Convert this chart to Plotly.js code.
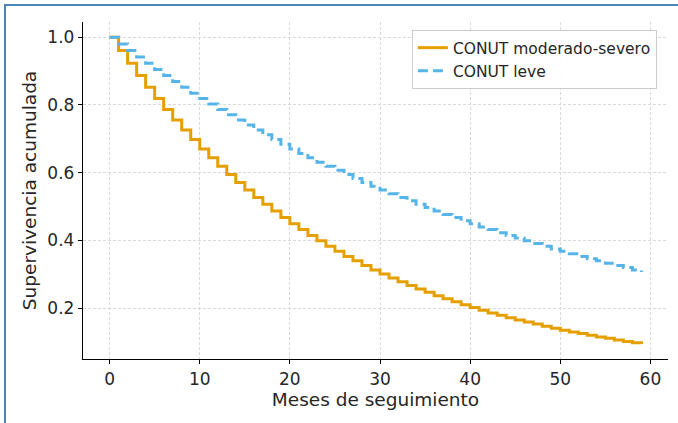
<!DOCTYPE html>
<html>
<head>
<meta charset="utf-8">
<script src="https://cdn.plot.ly/plotly-3.0.1.min.js"></script>
<style>
  html, body { margin: 0; padding: 0; background: #ffffff; }
  #frame { position: absolute; left: 4px; top: 4px; width: 674px; height: 419px;
           border-left: 2px solid #4a86b8; border-top: 2px solid #4a86b8; box-sizing: border-box; }
  #chart { position: absolute; left: 0; top: 0; width: 678px; height: 423px; }
</style>
</head>
<body>
<div id="chart"></div>
<div id="frame"></div>
<script>
// Months of follow-up
const months = [0,1,2,3,4,5,6,7,8,9,10,11,12,13,14,15,16,17,18,19,20,21,22,23,24,25,26,27,28,29,
                30,31,32,33,34,35,36,37,38,39,40,41,42,43,44,45,46,47,48,49,50,51,52,53,54,55,56,57,58,59];

// CONUT moderado-severo
const survModSev = [1.000,0.961,0.923,0.887,0.852,0.819,0.787,0.756,0.726,0.698,
                    0.670,0.644,0.619,0.595,0.571,0.549,0.527,0.507,0.487,0.468,
                    0.449,0.432,0.415,0.399,0.383,0.368,0.353,0.340,0.326,0.313,
                    0.301,0.289,0.278,0.267,0.257,0.247,0.237,0.228,0.219,0.210,
                    0.202,0.194,0.186,0.179,0.172,0.165,0.159,0.153,0.147,0.141,
                    0.135,0.130,0.125,0.120,0.115,0.111,0.106,0.102,0.098,0.094];

// CONUT leve
const survLeve = [1.000,0.980,0.961,0.942,0.923,0.905,0.887,0.869,0.852,0.835,
                  0.819,0.803,0.787,0.771,0.756,0.741,0.726,0.712,0.698,0.684,
                  0.670,0.657,0.644,0.631,0.619,0.607,0.595,0.583,0.571,0.560,
                  0.549,0.538,0.527,0.517,0.507,0.497,0.487,0.477,0.468,0.458,
                  0.449,0.440,0.432,0.423,0.415,0.407,0.399,0.391,0.383,0.375,
                  0.368,0.361,0.353,0.346,0.340,0.333,0.326,0.320,0.313,0.307];

const seriesNames = ["CONUT moderado-severo", "CONUT leve"];
const xTicks = [0,10,20,30,40,50,60];
const yTicks = [0.2,0.4,0.6,0.8,1.0];
const yTickText = ["0.2","0.4","0.6","0.8","1.0"];

const font = "DejaVu Sans, sans-serif";

const traces = [
  { x: months, y: survModSev, name: seriesNames[0], type: "scatter", mode: "lines",
    line: { shape: "hv", color: "#E69F00", width: 3 } },
  { x: months, y: survLeve, name: seriesNames[1], type: "scatter", mode: "lines",
    line: { shape: "hv", color: "#56B4E9", width: 3, dash: "10px,5px" } }
];

const layout = {
  width: 678, height: 423, autosize: false,
  margin: { l: 83, r: 10, t: 22, b: 64, pad: 0 },
  paper_bgcolor: "#ffffff", plot_bgcolor: "#ffffff",
  font: { family: font, color: "#262626", size: 17 },
  showlegend: true,
  legend: {
    x: 0.981, y: 0.976, xanchor: "right", yanchor: "top",
    bgcolor: "rgba(255,255,255,0.9)", bordercolor: "#cccccc", borderwidth: 1,
    font: { family: font, size: 15.5, color: "#262626" },
    tracegroupgap: 0
  },
  xaxis: {
    range: [-2.95, 61.95], tickvals: xTicks, ticktext: xTicks.map(String),
    showline: true, linecolor: "#000000", linewidth: 1.2, mirror: false,
    ticks: "outside", ticklen: 4, tickwidth: 1, tickcolor: "#000000",
    showgrid: true, gridcolor: "#d9d9d9", griddash: "3px,2px", gridwidth: 1,
    zeroline: false,
    tickfont: { family: font, size: 17, color: "#262626" },
    title: { text: "Meses de seguimiento", font: { family: font, size: 18.5, color: "#262626" }, standoff: 3 }
  },
  yaxis: {
    range: [0.05, 1.045], tickvals: yTicks, ticktext: yTickText,
    showline: true, linecolor: "#000000", linewidth: 1.2, mirror: false,
    ticks: "outside", ticklen: 4, tickwidth: 1, tickcolor: "#000000",
    showgrid: true, gridcolor: "#d9d9d9", griddash: "3px,2px", gridwidth: 1,
    zeroline: false,
    tickfont: { family: font, size: 17, color: "#262626" },
    title: { text: "Supervivencia acumulada", font: { family: font, size: 18.5, color: "#262626" }, standoff: 5 }
  }
};

Plotly.newPlot("chart", traces, layout, { staticPlot: true, displayModeBar: false });
</script>
</body>
</html>
